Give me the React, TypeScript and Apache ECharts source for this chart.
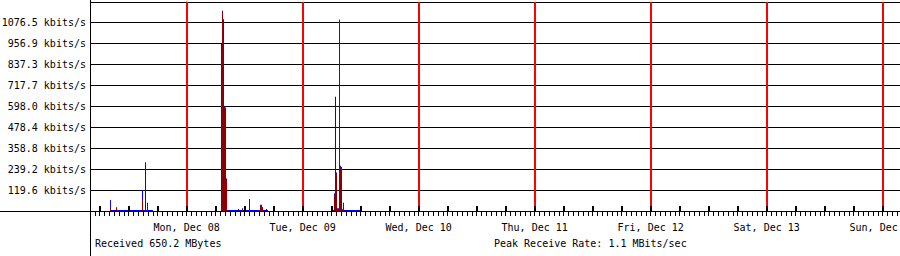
import React, { useEffect, useRef } from "react";
import * as echarts from "echarts";

// Hours are counted from Mon, Dec 08 00:00.
const X_MIN = -20;
const X_MAX = 147.59;

const dayHours = [0, 24, 48, 72, 96, 120, 144];
const dayLabels = [
  "Mon, Dec 08",
  "Tue, Dec 09",
  "Wed, Dec 10",
  "Thu, Dec 11",
  "Fri, Dec 12",
  "Sat, Dec 13",
  "Sun, Dec 14",
];

const Y_STEP = 119.615;
const Y_MAX = 1190;
const yTickLabels = [
  "119.6 kbits/s",
  "239.2 kbits/s",
  "358.8 kbits/s",
  "478.4 kbits/s",
  "598.0 kbits/s",
  "717.7 kbits/s",
  "837.3 kbits/s",
  "956.9 kbits/s",
  "1076.5 kbits/s",
];

// Received (kbit/s), each value held until the next sample
const recvHours = [
  -20, -15.86, -15.66, -14.62, -14.41, -9.24, -9.03, -8.62, -8.41, -8.21, -8.0,
  7.1, 7.31, 7.52, 7.72, 7.93, 8.14, 8.34,
  11.45, 11.66, 12.9, 13.1,
  15.17, 15.38, 15.59, 15.79,
  30.48, 30.69, 30.9, 31.1, 31.31, 31.52, 31.72, 31.93, 32.14, 32.34, 32.55,
  36.28,
];
const recvKbps = [
  0, 24, 0, 17, 0, 63, 0, 20, 0, 40, 0,
  917, 1135, 1088, 587, 587, 177, 0,
  12, 0, 6, 0,
  33, 33, 20, 0,
  91, 215, 215, 10, 10, 1090, 252, 245, 5, 40, 0,
  0,
];

// Sent (kbit/s)
const sentHours = [
  -20, -15.86, -15.66, -14.62, -14.41, -9.24, -9.03, -8.62, -8.41, -8.21, -8.0, -6.97,
  7.1, 7.31, 7.52, 7.72, 7.93, 8.14, 8.34,
  10.62, 10.83, 11.45, 11.66, 12.9, 13.1,
  15.17, 15.38, 15.59, 15.79, 16.41, 16.62, 16.83,
  30.28, 30.48, 30.69, 30.9, 31.1, 31.31, 31.52, 31.72, 31.93, 32.14, 32.34, 32.55,
  36.28,
];
const sentKbps = [
  0, 63, 5, 21, 5, 120, 5, 277, 5, 47, 5, 0,
  951, 1140, 1092, 595, 590, 185, 5,
  12, 5, 15, 5, 68, 5,
  36, 36, 22, 5, 12, 5, 0,
  5, 100, 651, 220, 15, 15, 1090, 258, 250, 10, 47, 5,
  0,
];

const FONT = "DejaVu Sans Mono";

export default function App() {
  const ref = useRef<HTMLDivElement>(null);

  useEffect(() => {
    if (!ref.current) return;
    const chart = echarts.init(ref.current, null, { renderer: "svg" });

    const sixHourTicks: number[] = [];
    for (let h = -18; h <= X_MAX; h += 6) sixHourTicks.push(h);

    const recvData = recvHours.map((h, i) => [h, recvKbps[i]]);
    const sentData = sentHours.map((h, i) => [h, sentKbps[i]]);

    chart.setOption({
      animation: false,
      backgroundColor: "#ffffff",
      grid: {
        left: 90,
        right: 0,
        top: 2.08,
        bottom: 45,
        containLabel: false,
        outerBoundsMode: "none",
      },
      xAxis: [
        {
          type: "value",
          min: X_MIN,
          max: X_MAX,
          interval: 1,
          position: "bottom",
          axisLine: { show: true, lineStyle: { color: "#000", width: 1 } },
          axisTick: { show: true, inside: false, length: 5, lineStyle: { color: "#000", width: 1 } },
          axisLabel: { show: false },
          splitLine: { show: false },
          z: 4,
        },
        {
          type: "value",
          min: X_MIN,
          max: X_MAX,
          position: "bottom",
          axisLine: { show: false },
          axisTick: {
            show: true,
            customValues: sixHourTicks,
            inside: true,
            length: 5,
            lineStyle: { color: "#000", width: 2 },
          },
          axisLabel: {
            show: true,
            customValues: dayHours,
            formatter: (v: number) => dayLabels[Math.round(v / 24)] ?? "",
            margin: 11,
            color: "#000",
            fontFamily: FONT,
            fontSize: 10,
            hideOverlap: false,
          },
          splitLine: { show: false },
          z: 5,
        },
      ],
      yAxis: {
        type: "value",
        min: 0,
        max: Y_MAX,
        interval: Y_STEP,
        axisLine: { show: true, lineStyle: { color: "#000", width: 1 } },
        axisTick: { show: false },
        axisLabel: {
          margin: 4,
          color: "#000",
          fontFamily: FONT,
          fontSize: 10,
          formatter: (v: number) => {
            const i = Math.round(v / Y_STEP);
            return i >= 1 ? yTickLabels[i - 1] ?? "" : "";
          },
        },
        splitLine: { show: true, lineStyle: { color: "#000", width: 1, type: "solid" } },
      },
      series: [
        {
          name: "Sent",
          type: "line",
          step: "end",
          xAxisIndex: 0,
          data: sentData,
          symbol: "none",
          lineStyle: { width: 0, color: "#0000ff" },
          areaStyle: { color: "#0000ff", opacity: 1 },
          z: 2,
          markLine: {
            silent: true,
            symbol: ["none", "none"],
            label: { show: false },
            lineStyle: { color: "#ff0000", width: 2, type: "solid" },
            data: dayHours.map((h) => ({ xAxis: h })),
          },
        },
        {
          name: "Received",
          type: "line",
          step: "end",
          xAxisIndex: 0,
          data: recvData,
          symbol: "none",
          lineStyle: { width: 0, color: "#8b0000" },
          areaStyle: { color: "#8b0000", opacity: 1 },
          z: 3,
        },
      ],
      graphic: [
        {
          type: "line",
          shape: { x1: 90.5, y1: 0, x2: 90.5, y2: 256 },
          style: { stroke: "#000", lineWidth: 1 },
          z: 10,
        },
        {
          type: "line",
          shape: { x1: 0, y1: 211.5, x2: 900, y2: 211.5 },
          style: { stroke: "#000", lineWidth: 1 },
          z: 10,
        },
        {
          type: "text",
          x: 95,
          y: 243,
          style: {
            text: "Received 650.2 MBytes",
            fill: "#000",
            font: `10px "${FONT}"`,
            verticalAlign: "middle",
          },
        },
        {
          type: "text",
          x: 494,
          y: 243,
          style: {
            text: "Peak Receive Rate: 1.1 MBits/sec",
            fill: "#000",
            font: `10px "${FONT}"`,
            verticalAlign: "middle",
          },
        },
      ],
    });

    return () => chart.dispose();
  }, []);

  return (
    <div
      ref={ref}
      style={{ position: "absolute", left: 0, top: 0, width: 900, height: 256, background: "#fff" }}
    />
  );
}
